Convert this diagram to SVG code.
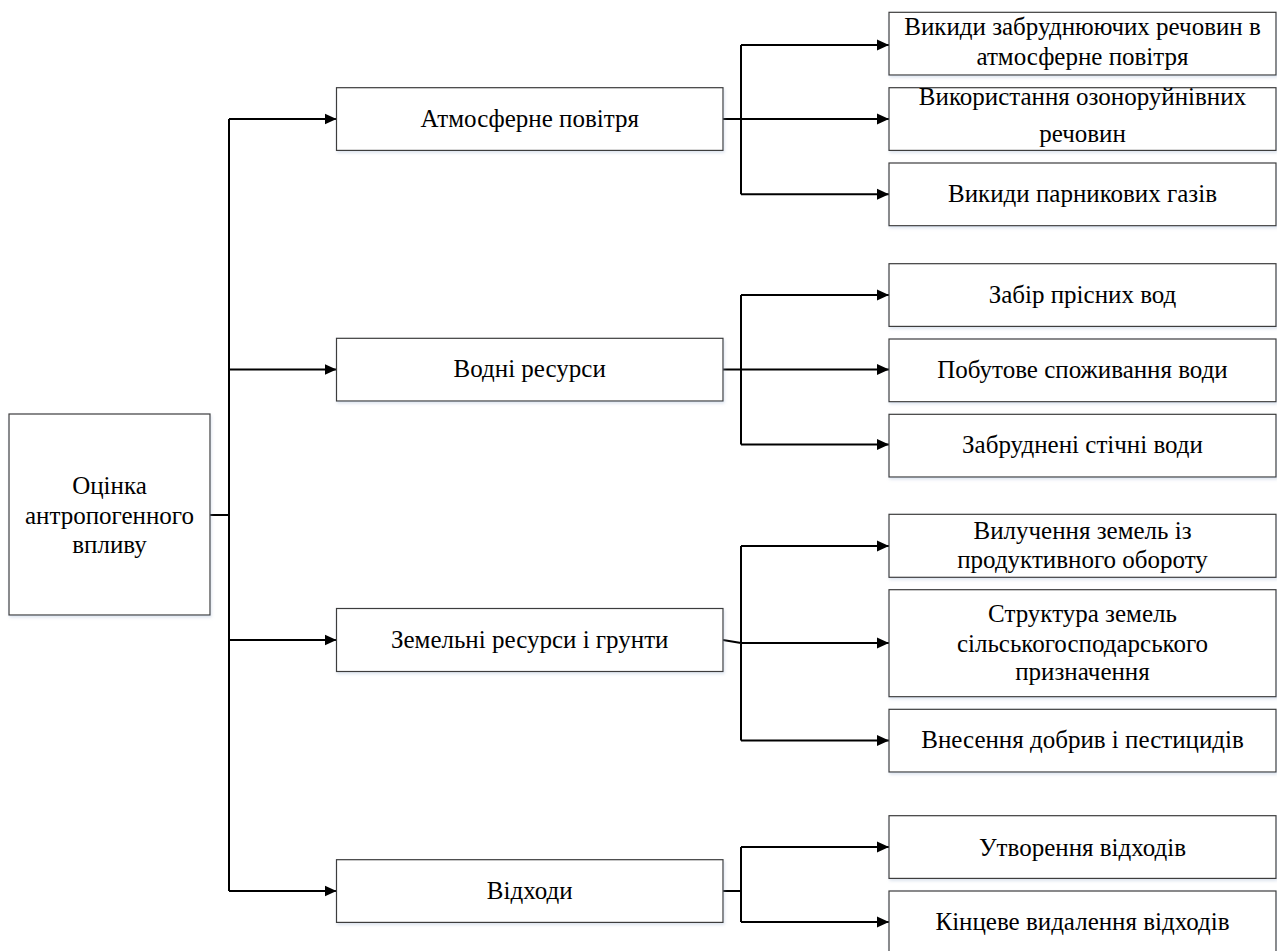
<svg xmlns="http://www.w3.org/2000/svg" width="1277" height="951" viewBox="0 0 1277 951">
<style>
.box{fill:#fff;stroke:#3c3c3c;stroke-width:1.2;filter:url(#sh)}
.t{font-size:25px;fill:#000;text-anchor:middle}
.c{fill:none;stroke:#000;stroke-width:2}
.a{marker-end:url(#arr)}
</style>
<defs>
<marker id="arr" markerWidth="12" markerHeight="12" refX="12" refY="6" orient="auto" markerUnits="userSpaceOnUse"><path d="M0,0.5 L12,6 L0,11.5 z" fill="#000"/></marker>
<filter id="sh" x="-5%" y="-10%" width="110%" height="130%"><feDropShadow dx="1" dy="2" stdDeviation="1.5" flood-color="#9fb4d0" flood-opacity="0.35"/></filter>
</defs>
<rect width="1277" height="951" fill="#fff"/>
<g id="connectors">
<path class="c" d="M210,515 H229 M229,119 V891"/>
<path class="c a" d="M229,119 H336.5"/>
<path class="c a" d="M229,369.5 H336.5"/>
<path class="c a" d="M229,640 H336.5"/>
<path class="c a" d="M229,891 H336.5"/>
<path class="c" d="M723,119 H741 M741,45 V194.3"/>
<path class="c a" d="M741,45 H889"/>
<path class="c a" d="M741,119 H889"/>
<path class="c a" d="M741,194.3 H889"/>
<path class="c" d="M723,369.5 H741 M741,295 V444.5"/>
<path class="c a" d="M741,295 H889"/>
<path class="c a" d="M741,369.5 H889"/>
<path class="c a" d="M741,444.5 H889"/>
<path class="c" d="M723,640 L741,643 M741,546 V740.5"/>
<path class="c a" d="M741,546 H889"/>
<path class="c a" d="M741,643 H889"/>
<path class="c a" d="M741,740.5 H889"/>
<path class="c" d="M723,891 H741 M741,847 V922"/>
<path class="c a" d="M741,847 H889"/>
<path class="c a" d="M741,922 H889"/>
</g>
<g font-family="Liberation Serif, DejaVu Serif, serif">
<g id="root"><rect class="box" x="9" y="414" width="201" height="201"/>
<text class="t" x="109.5" y="494">Оцінка</text><text class="t" x="109.5" y="523.5">антропогенного</text><text class="t" x="109.5" y="553">впливу</text></g>
<g id="atm"><rect class="box" x="336.5" y="87.7" width="386.5" height="62.7"/><text class="t" x="529.7" y="127">Атмосферне повітря</text></g>
<g id="water"><rect class="box" x="336.5" y="338.3" width="386.5" height="62.7"/><text class="t" x="529.7" y="377">Водні ресурси</text></g>
<g id="land"><rect class="box" x="336.5" y="608.5" width="386.5" height="63"/><text class="t" x="529.7" y="648">Земельні ресурси і грунти</text></g>
<g id="waste"><rect class="box" x="336.5" y="859.7" width="386.5" height="62.7"/><text class="t" x="529.7" y="899">Відходи</text></g>
<g id="r1"><rect class="box" x="889" y="12.3" width="387" height="62.7"/><text class="t" x="1082.5" y="35">Викиди забруднюючих речовин в</text><text class="t" x="1082.5" y="65">атмосферне повітря</text></g>
<g id="r2"><rect class="box" x="889" y="87.7" width="387" height="62.7"/><text class="t" x="1082.5" y="105">Використання озоноруйнівних</text><text class="t" x="1082.5" y="141.5">речовин</text></g>
<g id="r3"><rect class="box" x="889" y="163" width="387" height="62.7"/><text class="t" x="1082.5" y="202.3">Викиди парникових газів</text></g>
<g id="r4"><rect class="box" x="889" y="263.7" width="387" height="62.7"/><text class="t" x="1082.5" y="303.3">Забір прісних вод</text></g>
<g id="r5"><rect class="box" x="889" y="339" width="387" height="62.7"/><text class="t" x="1082.5" y="377.5">Побутове споживання води</text></g>
<g id="r6"><rect class="box" x="889" y="414.3" width="387" height="62.7"/><text class="t" x="1082.5" y="452.5">Забруднені стічні води</text></g>
<g id="r7"><rect class="box" x="889" y="514.3" width="387" height="63"/><text class="t" x="1082.5" y="539">Вилучення земель із</text><text class="t" x="1082.5" y="568">продуктивного обороту</text></g>
<g id="r8"><rect class="box" x="889" y="589.7" width="387" height="107"/><text class="t" x="1082.5" y="621.7">Структура земель</text><text class="t" x="1082.5" y="651.7">сільськогосподарського</text><text class="t" x="1082.5" y="680">призначення</text></g>
<g id="r9"><rect class="box" x="889" y="709.3" width="387" height="62.7"/><text class="t" x="1082.5" y="748.3">Внесення добрив і пестицидів</text></g>
<g id="r10"><rect class="box" x="889" y="815.7" width="387" height="62.7"/><text class="t" x="1082.5" y="856">Утворення відходів</text></g>
<g id="r11"><rect class="box" x="889" y="891" width="387" height="70"/><text class="t" x="1082.5" y="929.5">Кінцеве видалення відходів</text></g>
</g>
</svg>
